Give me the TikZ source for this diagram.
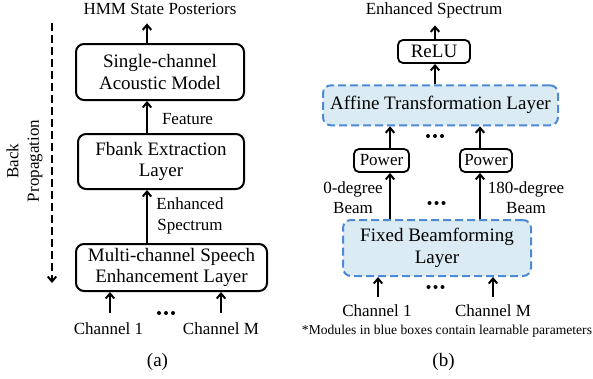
\documentclass[tikz,border=0pt]{standalone}
\usepackage{fontspec}
\setmainfont{Liberation Serif}
\usetikzlibrary{arrows.meta}
\definecolor{learnborder}{RGB}{78,137,214}
\definecolor{learnfill}{RGB}{219,235,243}

\begin{document}
\begin{tikzpicture}[x=1pt,y=-1pt,
  boxfont/.style={font=\fontsize{19}{21.5}\selectfont},
  box/.style={draw, line width=2pt, rounded corners=8pt, inner sep=0pt, align=center, boxfont},
  smallbox/.style={draw, line width=1.8pt, rounded corners=5pt, inner sep=0pt, align=center, font=\fontsize{17}{20}\selectfont},
  learnbox/.style={draw=learnborder, fill=learnfill, dash pattern=on 8pt off 4pt, line width=2pt, rounded corners=8pt, inner sep=0pt, align=center, boxfont},
  lbl/.style={inner sep=0pt, align=center, font=\fontsize{17}{20.5}\selectfont},
  flow/.style={line width=2pt, -{Straight Barb[length=5pt,width=8.5pt]}},
  backprop/.style={line width=2pt, dash pattern=on 8pt off 4pt, -{Straight Barb[length=5pt,width=8.5pt]}}
]
\useasboundingbox (0,0) rectangle (593,378);

% ---------------- (a) joint training pipeline ----------------
\coordinate (axA) at (147,0);

\node[box, minimum width=168pt, minimum height=56pt] (acoustic) at (160,72) {Single-channel\\Acoustic Model};
\node[box, minimum width=166pt, minimum height=55pt] (fbank) at (161,161.5) {Fbank Extraction\\Layer};
\node[box, minimum width=191pt, minimum height=47pt] (mcse) at (171.5,267.5) {Multi-channel Speech\\Enhancement Layer};

\node[lbl, anchor=base] (hmm) at (160,14.5) {HMM State Posteriors};
\node[lbl, anchor=base] (feat) at (187.5,124.5) {Feature};
\node[lbl] (enh) at (190,216) {Enhanced\\Spectrum};
\node[lbl, anchor=base] (ch1a) at (108.5,334) {Channel 1};
\node[lbl, anchor=base] (chMa) at (221,334) {Channel M};
\node[inner sep=0pt, anchor=base, font=\fontsize{19}{21}\selectfont] (capa) at (157.5,366.5) {(a)};

\draw[flow, shorten >=8.5pt] (acoustic.north -| axA) -- (hmm.south -| axA);
\draw[flow] (fbank.north -| axA) -- (acoustic.south -| axA);
\draw[flow] (mcse.north -| axA) -- (fbank.south -| axA);
\draw[flow, shorten <=9pt] (ch1a.north -| 110,0) -- (mcse.south -| 110,0);
\draw[flow, shorten <=9pt] (chMa.north) -- (mcse.south -| chMa.north);

% back propagation direction
\node[lbl, rotate=90] (bp) at (24.5,161) {Back\\Propagation};
\coordinate (bpTop) at (52,23);
\coordinate (bpEnd) at (52,283);
\draw[backprop] (bpTop) -- (bpEnd);

% ---------------- (b) enhancement layer ----------------
\coordinate (axL) at (390,0);
\coordinate (axR) at (480,0);
\coordinate (axM) at (435,0);

\node[lbl, anchor=base] (outb) at (434,14.5) {Enhanced Spectrum};
\node[smallbox, boxfont, minimum width=72pt, minimum height=23pt] (relu) at (434,51.5) {ReLU};
\node[learnbox, minimum width=235pt, minimum height=40pt] (affine) at (440.5,105.3) {Affine Transformation Layer};
\node[smallbox, minimum width=55pt, minimum height=23pt] (powL) at (381.5,160.5) {Power};
\node[smallbox, minimum width=52pt, minimum height=23pt] (powR) at (486,160.5) {Power};
\node[learnbox, minimum width=188pt, minimum height=56pt] (fixed) at (437,248) {Fixed Beamforming\\Layer};

\node[lbl] (beamL) at (353,197.7) {0-degree\\Beam};
\node[lbl] (beamR) at (526,197.7) {180-degree\\Beam};
\node[lbl, anchor=base] (ch1b) at (377,316.5) {Channel 1};
\node[lbl, anchor=base] (chMb) at (493,316.5) {Channel M};
\node[inner sep=0pt, anchor=base, font=\fontsize{13.6}{16}\selectfont] (note) at (447,334) {*Modules in blue boxes contain learnable parameters};
\node[inner sep=0pt, anchor=base, font=\fontsize{19}{21}\selectfont] (capb) at (443.5,366.5) {(b)};

\draw[flow, shorten >=7pt] (relu.north -| axM) -- (outb.south -| axM);
\draw[flow] (affine.north -| axM) -- (relu.south -| axM);
\draw[flow] (powL.north -| axL) -- (affine.south -| axL);
\draw[flow] (powR.north -| axR) -- (affine.south -| axR);
\draw[flow] (fixed.north -| axL) -- (powL.south -| axL);
\draw[flow] (fixed.north -| axR) -- (powR.south -| axR);
\draw[flow, shorten <=8pt] (ch1b.north -| 378,0) -- (fixed.south -| 378,0);
\draw[flow, shorten <=8pt] (chMb.north) -- (fixed.south -| chMb.north);

% ellipsis marks between parallel channels
\foreach \cx/\cy in {166/313, 435/136, 436.5/203, 435.5/287}
  \foreach \d in {-7,0,7}
    \fill (\cx+\d,\cy) circle (2pt);
\end{tikzpicture}
\end{document}
